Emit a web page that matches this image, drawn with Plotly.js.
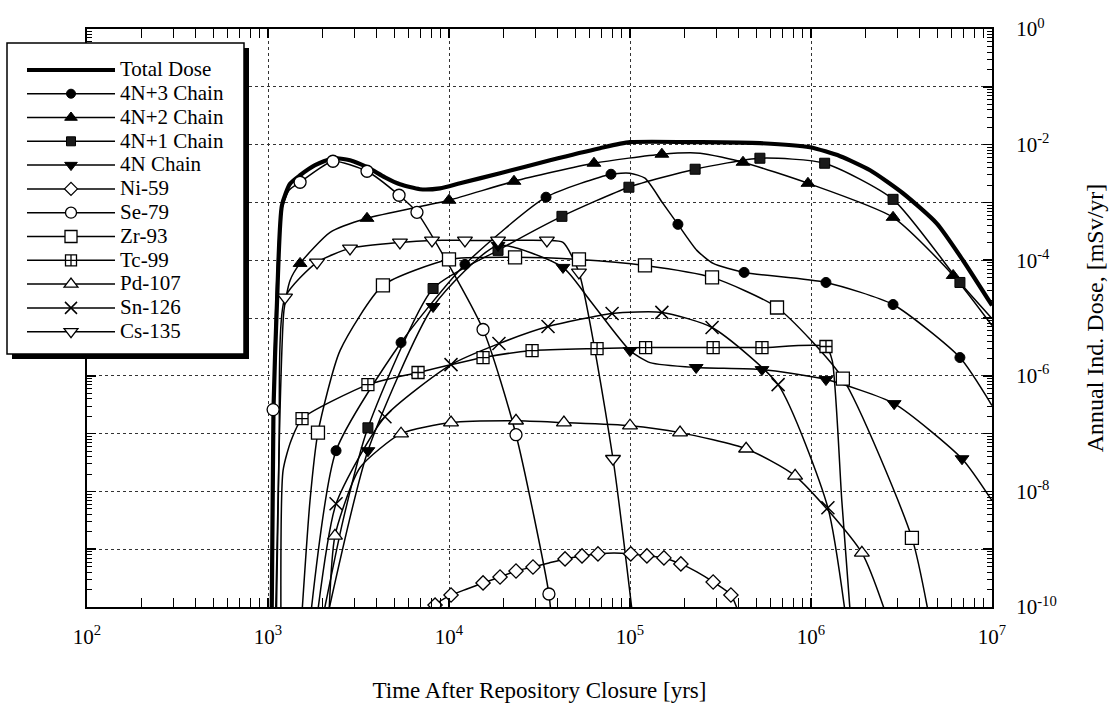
<!DOCTYPE html>
<html>
<head>
<meta charset="utf-8">
<script src="https://cdn.plot.ly/plotly-3.0.1.min.js"></script>
<style>
html,body{margin:0;padding:0;background:#fff;}
#chart{width:1117px;height:714px;}
</style>
</head>
<body>
<div id="chart"></div>
<script>
// ---------- DATA (time in years, dose in mSv/yr) ----------
const total_t = [1045, 1072, 1122, 1194, 1324, 1504, 1820, 2285, 2838, 3524, 4427, 5358, 6918, 8913, 11510, 19140, 36140, 68230, 100000, 244000, 522000, 986000, 1450000, 2120000, 3220000, 4960000, 6920000, 10000000];
const total_d = [2.5e-11, 2.6e-7, 2.0e-5, 8.9e-4, 2.1e-3, 2.95e-3, 4.4e-3, 5.8e-3, 5.37e-3, 4.07e-3, 2.72e-3, 2.06e-3, 1.69e-3, 1.75e-3, 2.14e-3, 3.19e-3, 5.37e-3, 8.67e-3, 1.10e-2, 1.10e-2, 1.06e-2, 9.0e-3, 6.3e-3, 3.6e-3, 1.44e-3, 4.3e-4, 9.9e-5, 1.65e-5];

const n43_t = [1660, 2377, 5433, 12250, 34360, 78520, 100000, 121000, 152000, 184000, 234000, 288000, 427000, 1210000, 2840000, 6650000, 10000000];
const n43_d = [2.5e-11, 5.06e-8, 3.76e-6, 8.45e-5, 1.23e-3, 3.07e-3, 3.19e-3, 2.62e-3, 9.6e-4, 4.17e-4, 1.48e-4, 8.8e-5, 6.15e-5, 4.12e-5, 1.71e-5, 2.07e-6, 3.05e-7];
const n43_m = [0,1,1,1,1,1,0,0,0,1,0,0,1,1,1,1,0];

const n42_t = [1107, 1151, 1225, 1324, 1504, 2203, 3524, 10000, 22860, 63240, 150000, 244000, 421000, 962000, 2840000, 6100000, 10000000];
const n42_d = [2.5e-11, 5.06e-8, 1.35e-5, 4.47e-5, 8.8e-5, 3.03e-4, 5.3e-4, 1.09e-3, 2.32e-3, 4.76e-3, 6.82e-3, 7.1e-3, 4.95e-3, 2.14e-3, 5.52e-4, 5.45e-5, 7.4e-6];
const n42_m = [0,0,0,0,1,0,1,1,1,1,1,0,1,1,1,1,0];

const n41_t = [1888, 2594, 3565, 8166, 18660, 42070, 98640, 229000, 522000, 1190000, 2840000, 6650000, 10000000];
const n41_d = [2.5e-11, 3.1e-9, 1.26e-7, 3.24e-5, 1.48e-4, 5.74e-4, 1.83e-3, 3.75e-3, 5.81e-3, 4.76e-3, 1.13e-3, 4.12e-5, 9.8e-6];
const n41_m = [0,0,1,1,1,1,1,1,1,1,1,1,0];

const n4_t = [1985, 3565, 8166, 18660, 42640, 60100, 100000, 129000, 232000, 536000, 1210000, 2880000, 6830000, 10000000];
const n4_d = [2.5e-11, 5.06e-8, 1.58e-5, 1.80e-4, 7.5e-5, 2.01e-5, 2.73e-6, 1.69e-6, 1.39e-6, 1.28e-6, 8.6e-7, 3.3e-7, 3.67e-8, 6.9e-9];
const n4_m = [0,1,1,1,1,0,1,0,1,1,1,1,1,0];

const ni59_t = [7362, 8375, 10260, 12570, 15420, 19140, 23450, 29110, 35650, 43750, 54300, 66540, 81600, 101000, 124000, 154000, 191000, 234000, 288000, 361000, 432000];
const ni59_d = [2.5e-11, 1.08e-10, 1.61e-10, 2.05e-10, 2.61e-10, 3.31e-10, 4.2e-10, 4.93e-10, 5.79e-10, 6.79e-10, 7.65e-10, 8.29e-10, 8.63e-10, 8.29e-10, 7.65e-10, 7.07e-10, 5.56e-10, 4.04e-10, 2.71e-10, 1.61e-10, 3.8e-11];
const ni59_m = [0,1,1,0,1,1,1,1,0,1,1,1,0,1,1,1,1,0,1,1,0];

const se79_t = [1040, 1067, 1107, 1180, 1306, 1504, 2285, 3524, 5297, 6653, 15420, 23450, 35650, 37560];
const se79_d = [2.5e-11, 2.6e-7, 2.01e-5, 6.73e-4, 1.62e-3, 2.23e-3, 5.15e-3, 3.46e-3, 1.33e-3, 6.73e-4, 6.32e-6, 9.57e-8, 1.68e-10, 2.5e-11];
const se79_m = [0,1,0,0,0,1,1,1,1,1,1,1,1,0];

const zr93_t = [1504, 1706, 1888, 2500, 4315, 10000, 23170, 52240, 121000, 284000, 649000, 1500000, 3610000, 4540000];
const zr93_d = [2.5e-11, 6.87e-9, 1.04e-7, 2.73e-6, 3.66e-5, 1.03e-4, 1.12e-4, 1.03e-4, 8.13e-5, 5.04e-5, 1.52e-5, 8.94e-7, 1.57e-9, 5.7e-11];
const zr93_m = [0,0,1,0,1,1,1,1,1,1,1,1,1,0];

const tc99_t = [1180, 1211, 1340, 1542, 3565, 6745, 15420, 28770, 65770, 122000, 288000, 536000, 1210000, 1310000, 1480000, 1660000];
const tc99_d = [2.5e-11, 2.28e-8, 7.53e-8, 1.81e-7, 7.03e-7, 1.14e-6, 2.07e-6, 2.73e-6, 2.96e-6, 3.08e-6, 3.08e-6, 3.08e-6, 3.21e-6, 1.83e-6, 6.87e-9, 5.7e-11];
const tc99_m = [0,0,0,1,1,1,1,1,1,1,1,1,1,0,0,0];

const pd107_t = [2143, 2344, 3221, 5433, 10260, 23450, 43150, 100000, 189000, 438000, 817000, 1910000, 2730000];
const pd107_d = [2.5e-11, 1.70e-9, 2.56e-8, 9.96e-8, 1.55e-7, 1.67e-7, 1.55e-7, 1.37e-7, 1.04e-7, 5.47e-8, 1.86e-8, 8.63e-10, 4.7e-11];
const pd107_m = [0,1,0,1,1,1,1,1,1,1,1,1,0];

const sn126_t = [1795, 2377, 4427, 10260, 18880, 35240, 79620, 150000, 284000, 658000, 1240000, 1580000];
const sn126_d = [2.5e-11, 6.1e-9, 1.96e-7, 1.56e-6, 3.61e-6, 7.12e-6, 1.20e-5, 1.25e-5, 6.84e-6, 7.03e-7, 5.2e-9, 4.7e-11];
const sn126_m = [0,1,1,1,1,1,1,1,1,1,1,0];

const cs135_t = [1094, 1151, 1242, 1866, 2838, 5358, 8054, 12250, 18660, 34750, 42640, 52240, 80540, 105000];
const cs135_d = [2.5e-11, 5.06e-8, 2.27e-5, 9.16e-5, 1.60e-4, 2.03e-4, 2.20e-4, 2.20e-4, 2.20e-4, 2.20e-4, 2.03e-4, 6.15e-5, 3.67e-8, 4.7e-11];
const cs135_m = [0,0,1,1,1,1,1,1,1,1,0,1,1,0];

const seriesNames = ['Total Dose','4N+3 Chain','4N+2 Chain','4N+1 Chain','4N Chain','Ni-59','Se-79','Zr-93','Tc-99','Pd-107','Sn-126','Cs-135'];

const xTickVals = [1e2,1e3,1e4,1e5,1e6,1e7];
const xTickText = ['10<sup>2</sup>','10<sup>3</sup>','10<sup>4</sup>','10<sup>5</sup>','10<sup>6</sup>','10<sup>7</sup>'];
const yTickVals = [1,1e-2,1e-4,1e-6,1e-8,1e-10];
const yTickText = ['10<sup>0</sup>','10<sup>-2</sup>','10<sup>-4</sup>','10<sup>-6</sup>','10<sup>-8</sup>','10<sup>-10</sup>'];
const yOddDecades = [1e-1,1e-3,1e-5,1e-7,1e-9];

// ---------- STYLE ----------
const FONT = 'Liberation Serif, Times New Roman, serif';
const W = '#ffffff', K = '#000000';
const styles = [
  {t: total_t, d: total_d, m: null, lw: 4.2, sym: null},
  {t: n43_t, d: n43_d, m: n43_m, lw: 1.5, sym: 'circle', size: 10, fill: K, lc: K, mlw: 1},
  {t: n42_t, d: n42_d, m: n42_m, lw: 1.5, sym: 'triangle-up', size: 12, fill: K, lc: K, mlw: 1},
  {t: n41_t, d: n41_d, m: n41_m, lw: 1.5, sym: 'square', size: 10, fill: '#1a1a1a', lc: K, mlw: 1},
  {t: n4_t, d: n4_d, m: n4_m, lw: 1.5, sym: 'triangle-down', size: 12, fill: K, lc: K, mlw: 1},
  {t: ni59_t, d: ni59_d, m: ni59_m, lw: 1.5, sym: 'diamond', size: 11, fill: W, lc: K, mlw: 1.3},
  {t: se79_t, d: se79_d, m: se79_m, lw: 1.5, sym: 'circle', size: 12, fill: W, lc: K, mlw: 1.3},
  {t: zr93_t, d: zr93_d, m: zr93_m, lw: 1.5, sym: 'square', size: 13, fill: W, lc: K, mlw: 1.3},
  {t: tc99_t, d: tc99_d, m: tc99_m, lw: 1.5, sym: 'square-cross', size: 12, fill: W, lc: K, mlw: 1.3},
  {t: pd107_t, d: pd107_d, m: pd107_m, lw: 1.5, sym: 'triangle-up', size: 13, fill: W, lc: K, mlw: 1.3},
  {t: sn126_t, d: sn126_d, m: sn126_m, lw: 1.5, sym: 'x-thin', size: 13, fill: K, lc: K, mlw: 1.5},
  {t: cs135_t, d: cs135_d, m: cs135_m, lw: 1.5, sym: 'triangle-down', size: 13, fill: W, lc: K, mlw: 1.3}
];

const lineTraces = [], markerTraces = [], legendTraces = [];
styles.forEach((s, i) => {
  lineTraces.push({
    x: s.t, y: s.d, mode: 'lines', type: 'scatter',
    line: {color: K, width: s.lw, shape: 'spline', smoothing: 0.6},
    showlegend: false, hoverinfo: 'skip'
  });
  const leg = {
    x: [null], y: [null], type: 'scatter',
    mode: s.sym ? 'lines+markers' : 'lines',
    name: '<span style="font-size:21px">' + seriesNames[i] + '</span>',
    line: {color: K, width: s.sym ? 1.5 : 4},
    hoverinfo: 'skip'
  };
  if (s.sym) {
    const mx = [], my = [];
    s.t.forEach((v, j) => { if (s.m[j]) { mx.push(v); my.push(s.d[j]); } });
    markerTraces.push({
      x: mx, y: my, mode: 'markers', type: 'scatter',
      marker: {symbol: s.sym, size: s.size, color: s.fill, line: {color: s.lc, width: s.mlw}},
      showlegend: false, hoverinfo: 'skip'
    });
    leg.marker = {symbol: s.sym, size: s.size - 1, color: s.fill, line: {color: s.lc, width: s.mlw}};
  }
  legendTraces.push(leg);
});
// carrier trace for the odd-decade grid axis
const gridCarrier = {x: [null], y: [null], yaxis: 'y2', type: 'scatter', mode: 'lines', showlegend: false, hoverinfo: 'skip'};

// pixel helpers for layout placement (plot area: x 87..992, y 29..607)
const L = 87, R = 992, T = 29, B = 607;
const px = v => (v - L) / (R - L);
const py = v => (B - v) / (B - T);

const minorX = [];
for (let e = 2; e < 7; e++) for (let k = 2; k <= 9; k++) minorX.push(k * Math.pow(10, e));
const minorY = [];
for (let e = -10; e < 0; e++) for (let k = 2; k <= 9; k++) minorY.push(k * Math.pow(10, e));

const axisCommon = {
  type: 'log', showline: true, linewidth: 2, linecolor: K, mirror: 'allticks',
  ticks: 'inside', ticklen: 9, tickwidth: 1.5, tickcolor: K,
  showgrid: true, gridcolor: '#333', griddash: 'dot', gridwidth: 1,
  zeroline: false, tickmode: 'array',
  tickfont: {family: FONT, size: 21, color: K}
};

const layout = {
  width: 1117, height: 714,
  margin: {l: L, r: 1117 - R, t: T, b: 714 - B, pad: 0},
  paper_bgcolor: W, plot_bgcolor: W,
  showlegend: true,
  font: {family: FONT, color: K},
  xaxis: Object.assign({}, axisCommon, {
    range: [2, 7], tickvals: xTickVals, ticktext: xTickText,
    ticklabelstandoff: 10,
    minor: {tickmode: 'array', tickvals: minorX, ticks: 'inside', ticklen: 5, tickcolor: K, tickwidth: 1, showgrid: false},
    title: {text: 'Time After Repository Closure [yrs]', font: {family: FONT, size: 23, color: K}, standoff: 34}
  }),
  yaxis: Object.assign({}, axisCommon, {
    range: [-10, 0], side: 'right', tickvals: yTickVals, ticktext: yTickText,
    ticklabelstandoff: 18,
    minor: {tickmode: 'array', tickvals: minorY, ticks: 'inside', ticklen: 5, tickcolor: K, tickwidth: 1, showgrid: false},
    title: {text: 'Annual Ind. Dose, [mSv/yr]', font: {family: FONT, size: 24, color: K}, standoff: 30}
  }),
  yaxis2: {
    type: 'log', range: [-10, 0], overlaying: 'y', side: 'right', anchor: 'x',
    tickmode: 'array', tickvals: yOddDecades, showticklabels: false,
    ticks: 'inside', ticklen: 9, tickwidth: 1.5, tickcolor: K, mirror: 'allticks',
    showline: false, zeroline: false,
    showgrid: true, gridcolor: '#333', griddash: 'dot', gridwidth: 1
  },
  legend: {
    x: px(22), y: py(53), xanchor: 'left', yanchor: 'top',
    bgcolor: 'rgba(0,0,0,0)', borderwidth: 0,
    font: {family: FONT, size: 16, color: K},
    itemwidth: 88, tracegroupgap: 0
  },
  shapes: [
    {type: 'rect', xref: 'paper', yref: 'paper', layer: 'above',
     x0: px(12), x1: px(249), y0: py(359), y1: py(48),
     fillcolor: K, line: {width: 0}},
    {type: 'rect', xref: 'paper', yref: 'paper', layer: 'above',
     x0: px(7), x1: px(244), y0: py(354), y1: py(43),
     fillcolor: W, line: {color: K, width: 1.5}}
  ]
};

Plotly.newPlot('chart', [gridCarrier].concat(lineTraces, markerTraces, legendTraces), layout, {staticPlot: true, displayModeBar: false});
</script>
</body>
</html>
